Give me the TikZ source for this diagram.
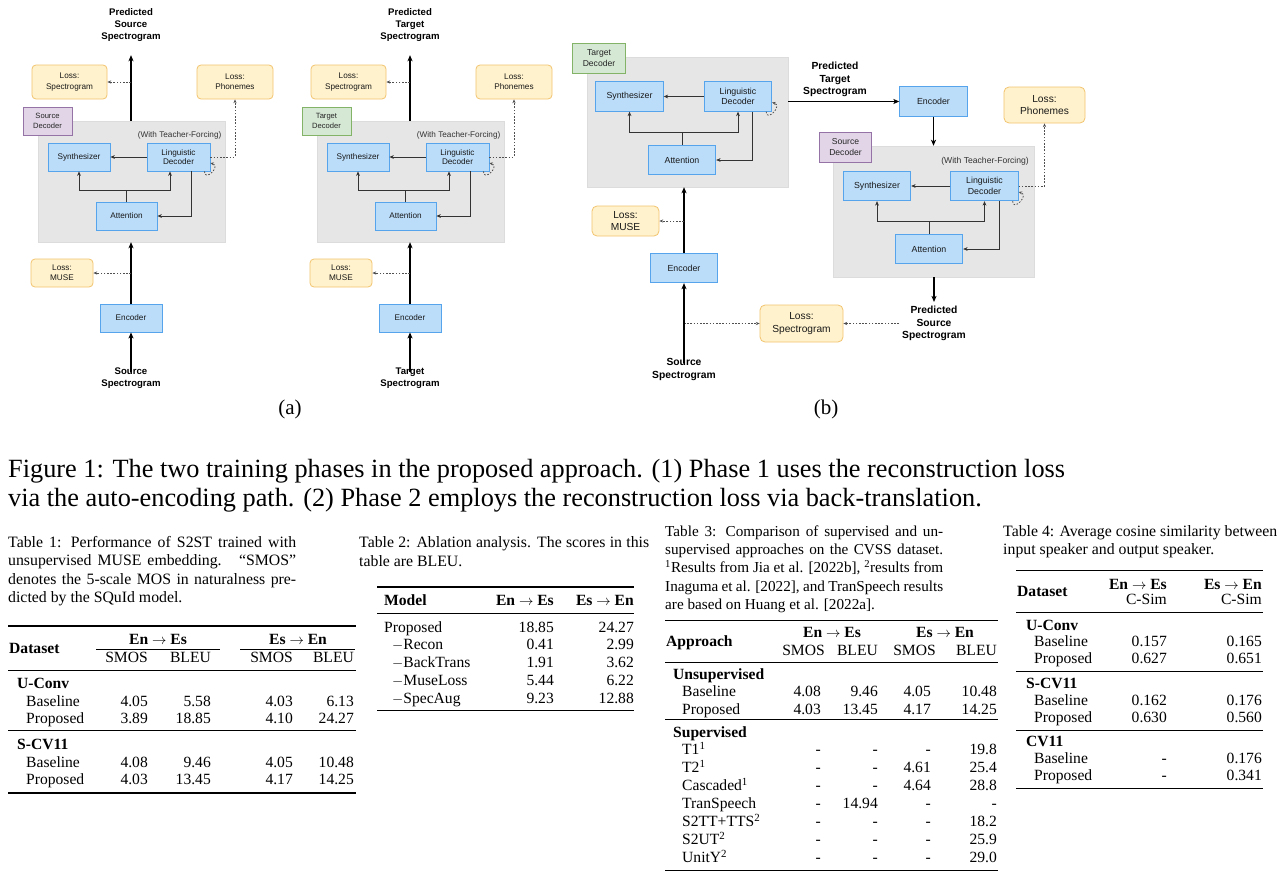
\documentclass[tikz,border=0pt]{standalone}
\usepackage{fontspec}
\setmainfont{Liberation Serif}
\newfontfamily\diagfont{Liberation Sans}
\usetikzlibrary{arrows.meta}
\definecolor{bfill}{HTML}{BBDDFA}
\definecolor{bdraw}{HTML}{55A4EC}
\definecolor{yfill}{HTML}{FFF2CC}
\definecolor{ydraw}{HTML}{F2C46F}
\definecolor{gfill}{HTML}{D5E8D4}
\definecolor{gdraw}{HTML}{82B366}
\definecolor{pfill}{HTML}{E1D5E7}
\definecolor{pdraw}{HTML}{9673A6}
\definecolor{cfill}{HTML}{E6E6E6}
\definecolor{cdraw}{HTML}{DCDCDC}
\definecolor{dgray}{HTML}{333333}
\definecolor{mgray}{HTML}{505050}
\newcounter{tn}
\newcommand\TL[3]{\stepcounter{tn}\node[tt,anchor=west] (tx\arabic{tn}) at (#1,#2) {#3};}
\newcommand\TR[3]{\stepcounter{tn}\node[tt,anchor=east] (tx\arabic{tn}) at (#1,#2) {#3};}
\newcommand\TC[3]{\stepcounter{tn}\node[tt,anchor=center] (tx\arabic{tn}) at (#1,#2) {#3};}
\newcommand\CJ[4]{\stepcounter{tn}\node[capt,anchor=west] (tx\arabic{tn}) at (#1,#2) {\makebox[#3pt][s]{#4}};}
\newcommand\CN[3]{\stepcounter{tn}\node[capt,anchor=west] (tx\arabic{tn}) at (#1,#2) {#3};}
\newcommand\HR[4]{\draw[line width=#4pt] (#1,#2) -- (#3,#2);}
\newcommand\RowQ[7]{\TL{#2}{#1}{#3}\TR{\colA}{#1}{#4}\TR{\colB}{#1}{#5}\TR{\colC}{#1}{#6}\TR{\colD}{#1}{#7}}
\newcommand\RowD[5]{\TL{#2}{#1}{#3}\TR{\colA}{#1}{#4}\TR{\colB}{#1}{#5}}
\newcommand\smcap{\fontsize{15.2}{18}\selectfont}
\tikzset{
  tt/.style={font=\fontsize{15.6}{18}\selectfont, inner sep=0pt, text height=10.5pt, text depth=0pt},
  capt/.style={font=\fontsize{15.8}{18}\selectfont, inner sep=0pt, text height=10.5pt, text depth=0pt},
  figcap/.style={font=\fontsize{26.3}{29}\selectfont, inner sep=0pt, text height=18pt, text depth=0pt, anchor=west},
  sublab/.style={font=\fontsize{21}{24}\selectfont, inner sep=0pt},
  cont/.style={fill=cfill, draw=cdraw, line width=0.4pt, inner sep=0pt},
  blka/.style={draw=bdraw, fill=bfill, line width=0.8pt, inner sep=0pt, align=center,
    minimum width=62pt, minimum height=28pt, text=black!90, font=\diagfont\fontsize{8.2}{9.8}\selectfont},
  blkb/.style={draw=bdraw, fill=bfill, line width=0.8pt, inner sep=0pt, align=center,
    minimum width=67.5pt, minimum height=29.5pt, text=black!90, font=\diagfont\fontsize{8.8}{10.6}\selectfont},
  lossa/.style={draw=ydraw, fill=yfill, rounded corners=4pt, line width=0.8pt, inner sep=0pt, align=center,
    text=black!90, font=\diagfont\fontsize{8.2}{10.2}\selectfont},
  lossb/.style={draw=ydraw, fill=yfill, rounded corners=5pt, line width=0.8pt, inner sep=0pt, align=center,
    text=black!90, font=\diagfont\fontsize{10.2}{12.3}\selectfont},
  taga/.style={line width=0.8pt, inner sep=0pt, align=center, minimum width=49pt, minimum height=28pt,
    text=black!85, font=\diagfont\fontsize{7.6}{9.8}\selectfont},
  tagb/.style={line width=0.8pt, inner sep=0pt, align=center, minimum width=52.5pt, minimum height=30pt,
    text=black!85, font=\diagfont\fontsize{8.6}{10.6}\selectfont},
  greentag/.style={fill=gfill, draw=gdraw},
  purpletag/.style={fill=pfill, draw=pdraw},
  tfa/.style={inner sep=0pt, anchor=east, text=dgray, font=\diagfont\fontsize{8.2}{10}\selectfont},
  tfb/.style={inner sep=0pt, anchor=east, text=dgray, font=\diagfont\fontsize{8.6}{10}\selectfont},
  titlea/.style={inner xsep=3pt, inner ysep=0pt, align=center, font=\diagfont\bfseries\fontsize{9.6}{12}\selectfont},
  titleb/.style={inner xsep=3pt, inner ysep=0pt, align=center, font=\diagfont\bfseries\fontsize{10.3}{12.5}\selectfont},
  mainarr/.style={draw=black, line width=1.4pt, -{Stealth[length=6pt,width=5pt,inset=1.5pt]}},
  inline/.style={draw=dgray, line width=0.9pt},
  inarr/.style={draw=dgray, line width=0.9pt, -{Stealth[length=4.5pt,width=3.8pt]}},
  dasharr/.style={draw=mgray, line width=0.75pt, dash pattern=on 1.6pt off 1.6pt, -{Stealth[length=3.8pt,width=3.2pt]}},
  loopst/.style={draw=mgray, line width=0.8pt, dash pattern=on 1.6pt off 1.6pt, -{Stealth[length=3.5pt,width=3pt]}},
}
\newcommand\PhaseA[4]{%
\begin{scope}[xshift=#2pt, name prefix=#1-]
  \node[titlea] (title) at (131,25.5) {Predicted\\#3\\Spectrogram};
  \node[cont, minimum width=187pt, minimum height=121pt] (cont) at (131.5,181.5) {};
  \node[lossa, minimum width=75pt, minimum height=34pt] (lsp) at (69.5,82) {Loss:\\Spectrogram};
  \node[lossa, minimum width=76pt, minimum height=34pt] (lph) at (235,82) {Loss:\\Phonemes};
  \node[taga, #4] (tag) at (47.5,121) {#3\\Decoder};
  \node[tfa] (tf) at (221.5,135) {(With Teacher-Forcing)};
  \node[blka] (syn) at (79,157) {Synthesizer};
  \node[blka, minimum width=63pt] (ling) at (178.5,157) {Linguistic\\Decoder};
  \node[blka, minimum width=61pt] (att) at (126.5,216) {Attention};
  \node[blka] (enc) at (131,318) {Encoder};
  \node[lossa, minimum width=62pt, minimum height=28pt] (lmu) at (62,273) {Loss:\\MUSE};
  \node[titlea] (src) at (131,378) {#3\\Spectrogram};
  \coordinate (aj) at (126.5,190);
  \draw[mainarr, shorten >=13pt] (cont.north -| title.south) -- (title.south);
  \draw[dasharr] (title.south |- lsp.east) -- (lsp.east);
  \draw[dasharr] (ling.east) -| (lph.south);
  \draw[inarr] (ling.west) -- (syn.east);
  \draw[inline] (att.north) -- (aj);
  \draw[inarr] (aj) -| (syn.south);
  \draw[inarr] (aj) -| ([xshift=-8.5pt]ling.south);
  \draw[inarr] ([xshift=12.5pt]ling.south) |- (att.east);
  \draw[loopst] ([xshift=-6pt]ling.south east) .. controls +(0,11) and +(11,3) .. ([yshift=-6pt]ling.east);
  \draw[mainarr] (enc.north) -- (enc.north |- cont.south);
  \draw[dasharr] (enc.north |- lmu.east) -- (lmu.east);
  \draw[mainarr, shorten <=-4.5pt] (src.north) -- (enc.south);
\end{scope}}
\begin{document}
\begin{tikzpicture}[x=1pt,y=-1pt]
\useasboundingbox (0,0) rectangle (1280,878);
\fill[white] (0,0) rectangle (1280,878);

% ---------------- (a) ----------------
\PhaseA{pa}{0}{Source}{purpletag}
\PhaseA{pb}{279}{Target}{greentag}
\node[sublab] (laba) at (290,409) {(a)};

% ---------------- (b) ----------------
\node[cont, minimum width=201pt, minimum height=130pt] (bc1) at (687.5,122) {};
\node[tagb, greentag] (bttag) at (599,58) {Target\\Decoder};
\node[blkb] (bsyn1) at (629.5,96.5) {Synthesizer};
\node[blkb] (bling1) at (738,96.5) {Linguistic\\Decoder};
\node[blkb] (batt1) at (682,160) {Attention};
\coordinate (bj1) at (682,132);
\node[blkb] (benc1) at (684,268) {Encoder};
\node[lossb, minimum width=67pt, minimum height=30pt] (bmuse) at (625.5,221) {Loss:\\MUSE};
\node[titleb] (bsrc) at (684,369.5) {Source\\Spectrogram};
\node[lossb, minimum width=83pt, minimum height=37pt] (blsp) at (801.5,323.5) {Loss:\\Spectrogram};
\node[titleb] (bptgt) at (835,79.5) {Predicted\\Target\\Spectrogram};
\node[blkb] (benc2) at (933.5,101.5) {Encoder};
\node[cont, minimum width=201pt, minimum height=131pt] (bc2) at (933.5,211.5) {};
\node[tagb, purpletag] (bstag) at (845.5,147) {Source\\Decoder};
\node[tfb] (btf) at (1029,161) {(With Teacher-Forcing)};
\node[blkb] (bsyn2) at (877,186) {Synthesizer};
\node[blkb] (bling2) at (984.5,186) {Linguistic\\Decoder};
\node[blkb] (batt2) at (929,249) {Attention};
\coordinate (bj2) at (929,221);
\node[lossb, minimum width=81pt, minimum height=36pt] (blph) at (1044.5,105) {Loss:\\Phonemes};
\node[titleb] (bpsrc) at (934,323.5) {Predicted\\Source\\Spectrogram};
\node[sublab] (labb) at (826,409) {(b)};

\draw[inarr] (bling1.west) -- (bsyn1.east);
\draw[inline] (batt1.north) -- (bj1);
\draw[inarr] (bj1) -| (bsyn1.south);
\draw[inarr] (bj1) -| (bling1.south);
\draw[inarr] ([xshift=14pt]bling1.south) |- (batt1.east);
\draw[loopst] ([xshift=-6pt]bling1.south east) .. controls +(0,11) and +(11,3) .. ([yshift=-6pt]bling1.east);
\draw[mainarr] (benc1.north) -- (benc1.north |- bc1.south);
\draw[dasharr] (benc1.north |- bmuse.east) -- (bmuse.east);
\draw[dasharr] (benc1.north |- blsp.west) -- (blsp.west);
\draw[mainarr, shorten <=-5pt] (bsrc.north) -- (benc1.south);
\draw[mainarr] (bc1.east |- benc2.west) -- (benc2.west);
\draw[mainarr] (benc2.south) -- (benc2.south |- bc2.north);
\draw[inarr] (bling2.west) -- (bsyn2.east);
\draw[inline] (batt2.north) -- (bj2);
\draw[inarr] (bj2) -| (bsyn2.south);
\draw[inarr] (bj2) -| (bling2.south);
\draw[inarr] ([xshift=14.5pt]bling2.south) |- (batt2.east);
\draw[loopst] ([xshift=-6pt]bling2.south east) .. controls +(0,11) and +(11,3) .. ([yshift=-6pt]bling2.east);
\draw[dasharr] (bling2.east) -| (blph.south);
\draw[mainarr, shorten >=4pt] (bc2.south -| bpsrc.north) -- (bpsrc.north);
\draw[dasharr] (bpsrc.west) -- (blsp.east);

% ---------------- Figure caption ----------------
\node[figcap] (fc1) at (8,468) {Figure 1: The two training phases in the proposed approach. (1) Phase 1 uses the reconstruction loss};
\node[figcap] (fc2) at (8,497) {via the auto-encoding path. (2) Phase 2 employs the reconstruction loss via back-translation.};

% ---------------- Table 1 ----------------
\CJ{8}{542}{288}{Table 1: Performance of S2ST trained with}
\CJ{8}{560.5}{288}{unsupervised MUSE embedding. \ ``SMOS''}
\CJ{8}{579}{288}{denotes the 5-scale MOS in naturalness pre-}
\CN{8}{597.5}{dicted by the SQuId model.}
\HR{8}{626}{356}{1.2}
\TL{9}{648}{\textbf{Dataset}}
\TC{158}{639}{\textbf{En $\rightarrow$ Es}}
\TC{298}{639}{\textbf{Es $\rightarrow$ En}}
\HR{96}{649.5}{220}{0.6}
\HR{240}{649.5}{355}{0.6}
\TR{148}{657}{SMOS}\TR{211}{657}{BLEU}\TR{293}{657}{SMOS}\TR{354}{657}{BLEU}
\HR{8}{670}{356}{0.7}
\def\colA{148}\def\colB{211}\def\colC{293}\def\colD{354}
\TL{17}{683}{\textbf{U-Conv}}
\RowQ{701}{26}{Baseline}{4.05}{5.58}{4.03}{6.13}
\RowQ{718.7}{26}{Proposed}{3.89}{18.85}{4.10}{24.27}
\HR{8}{730}{356}{0.7}
\TL{17}{744}{\textbf{S-CV11}}
\RowQ{762}{26}{Baseline}{4.08}{9.46}{4.05}{10.48}
\RowQ{779}{26}{Proposed}{4.03}{13.45}{4.17}{14.25}
\HR{8}{793}{356}{1.2}

% ---------------- Table 2 ----------------
\CJ{359}{542.5}{290}{Table 2: Ablation analysis. The scores in this}
\CN{359}{561}{table are BLEU.}
\HR{377}{587}{634}{1.2}
\TL{384}{600}{\textbf{Model}}
\TR{554}{600}{\textbf{En $\rightarrow$ Es}}
\TR{634}{600}{\textbf{Es $\rightarrow$ En}}
\HR{377}{613}{634}{0.7}
\def\colA{554}\def\colB{634}
\RowD{627}{384}{Proposed}{18.85}{24.27}
\RowD{644.5}{392}{$-$Recon}{0.41}{2.99}
\RowD{662.3}{392}{$-$BackTrans}{1.91}{3.62}
\RowD{680}{392}{$-$MuseLoss}{5.44}{6.22}
\RowD{697.8}{392}{$-$SpecAug}{9.23}{12.88}
\HR{377}{710.5}{634}{1.2}

% ---------------- Table 3 ----------------
\CJ{665}{531}{278}{\smcap Table 3: Comparison of supervised and un-}
\CJ{665}{549.3}{278}{\smcap supervised approaches on the CVSS dataset.}
\CJ{665}{567.6}{278}{\smcap \textsuperscript{1}Results from Jia et al. [2022b], \textsuperscript{2}results from}
\CJ{665}{586}{278}{\smcap Inaguma et al. [2022], and TranSpeech results}
\CN{665}{604.3}{\smcap are based on Huang et al. [2022a].}
\HR{665}{620.5}{998}{1.2}
\TL{666}{641}{\textbf{Approach}}
\TC{832}{632}{\textbf{En $\rightarrow$ Es}}
\TC{945}{632}{\textbf{Es $\rightarrow$ En}}
\TR{825}{650}{SMOS}\TR{878}{650}{BLEU}\TR{936}{650}{SMOS}\TR{997}{650}{BLEU}
\HR{665}{662}{998}{0.7}
\def\colA{821}\def\colB{878}\def\colC{931}\def\colD{997}
\TL{673}{674}{\textbf{Unsupervised}}
\RowQ{691.5}{682}{Baseline}{4.08}{9.46}{4.05}{10.48}
\RowQ{709}{682}{Proposed}{4.03}{13.45}{4.17}{14.25}
\HR{665}{719.5}{998}{0.7}
\TL{673}{732.5}{\textbf{Supervised}}
\RowQ{749.5}{682}{T1\textsuperscript{1}}{-}{-}{-}{19.8}
\RowQ{767.3}{682}{T2\textsuperscript{1}}{-}{-}{4.61}{25.4}
\RowQ{785.1}{682}{Cascaded\textsuperscript{1}}{-}{-}{4.64}{28.8}
\RowQ{803}{682}{TranSpeech}{-}{14.94}{-}{-}
\RowQ{821}{682}{S2TT+TTS\textsuperscript{2}}{-}{-}{-}{18.2}
\RowQ{839}{682}{S2UT\textsuperscript{2}}{-}{-}{-}{25.9}
\RowQ{857}{682}{UnitY\textsuperscript{2}}{-}{-}{-}{29.0}
\HR{665}{870.5}{998}{1.2}

% ---------------- Table 4 ----------------
\CJ{1003}{531}{274}{Table 4: Average cosine similarity between}
\CN{1003}{549.3}{input speaker and output speaker.}
\HR{1016}{570.5}{1263}{1.2}
\TL{1017}{591.5}{\textbf{Dataset}}
\TR{1167}{584}{\textbf{En $\rightarrow$ Es}}
\TR{1167}{599.5}{C-Sim}
\TR{1262}{584}{\textbf{Es $\rightarrow$ En}}
\TR{1262}{599.5}{C-Sim}
\HR{1016}{612.5}{1263}{0.7}
\def\colA{1167}\def\colB{1262}
\TL{1026}{625}{\textbf{U-Conv}}
\RowD{641.5}{1034}{Baseline}{0.157}{0.165}
\RowD{658}{1034}{Proposed}{0.627}{0.651}
\HR{1016}{671}{1263}{0.7}
\TL{1026}{683.5}{\textbf{S-CV11}}
\RowD{700}{1034}{Baseline}{0.162}{0.176}
\RowD{717}{1034}{Proposed}{0.630}{0.560}
\HR{1016}{730}{1263}{0.7}
\TL{1026}{741.5}{\textbf{CV11}}
\RowD{758.5}{1034}{Baseline}{-}{0.176}
\RowD{775.5}{1034}{Proposed}{-}{0.341}
\HR{1016}{788.5}{1263}{1.2}
\end{tikzpicture}
\end{document}
